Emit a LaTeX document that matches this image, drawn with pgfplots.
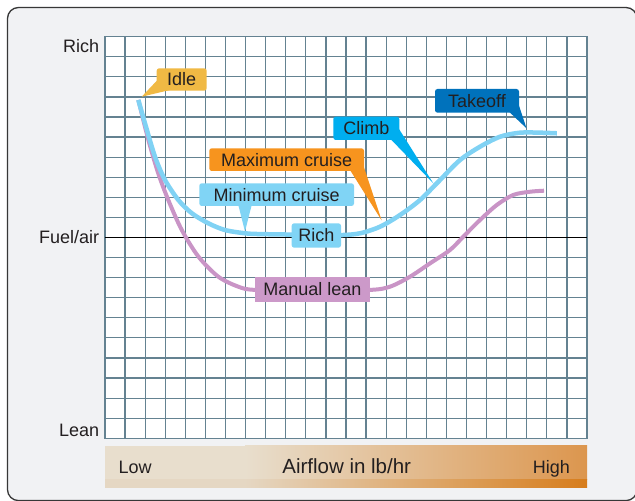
\documentclass[border=0pt]{standalone}
\usepackage{pgfplots}
\pgfplotsset{compat=1.18}
\usepackage{fontspec}
\setmainfont{Liberation Sans}
\definecolor{gridc}{RGB}{100,130,145}
\definecolor{framebg}{RGB}{241,242,244}
\definecolor{framedraw}{RGB}{55,55,55}
\definecolor{curveblue}{RGB}{128,210,244}
\definecolor{curvepurple}{RGB}{201,148,198}
\definecolor{idlec}{RGB}{240,185,68}
\definecolor{maxc}{RGB}{247,148,30}
\definecolor{minc}{RGB}{128,212,245}
\definecolor{climbc}{RGB}{0,174,239}
\definecolor{takeoffc}{RGB}{0,114,188}
\definecolor{leanc}{RGB}{204,153,201}
\definecolor{txt}{RGB}{35,31,32}
\definecolor{beige}{RGB}{232,222,205}
\definecolor{orangeR}{RGB}{220,150,78}
\definecolor{beigeD}{RGB}{229,215,195}
\definecolor{orangeD}{RGB}{215,125,28}
\newcommand{\callout}[6]{%
  \fill[#1, rounded corners=2.5pt] (#2,#3) rectangle (#4,#5);
  \node[anchor=base, inner sep=0pt, text=txt, font=\fontsize{18pt}{21pt}\selectfont] at ({(#2+#4)/2},{(#3+#5)/2+6.4}) {#6};}
\begin{document}
\begin{tikzpicture}
\useasboundingbox (0,0) rectangle (635pt,501pt);
\fill[white] (0,0) rectangle (635pt,501pt);
\begin{scope}[shift={(0pt,501pt)}, x=1pt, y=-1pt]
  \begin{scope}
    \clip (0,0) rectangle (635,501);
    \draw[fill=framebg, draw=framedraw, line width=1.3pt, rounded corners=11pt] (7.5,7.5) rectangle (637,500.6);
  \end{scope}
  \fill[beige] (105,446) rectangle (246,479.5);
  \shade[left color=beige, right color=orangeR] (245,446) rectangle (587,479.5);
  \fill[beigeD] (105,479.3) rectangle (246,488);
  \shade[left color=beigeD, right color=orangeD] (245,479.3) rectangle (587,488);
  \node[anchor=base west, inner sep=0pt, text=txt, font=\fontsize{18pt}{21pt}\selectfont] at (118.3,473.3) {Low};
  \node[anchor=base, inner sep=0pt, text=txt, font=\fontsize{20.5pt}{24pt}\selectfont] at (346.7,473.3) {Airflow in lb/hr};
  \node[anchor=base east, inner sep=0pt, text=txt, font=\fontsize{18pt}{21pt}\selectfont] at (570,473.3) {High};
\end{scope}
\begin{axis}[
  at={(105pt,62.7pt)}, anchor=south west,
  width=482pt, height=401.6pt, scale only axis,
  xmin=0, xmax=24, ymin=0, ymax=20,
  xtick={0,...,24}, ytick={0,...,20},
  xticklabels={}, yticklabels={},
  major tick length=0pt,
  grid=major,
  major grid style={color=gridc, line width=1.2pt},
  axis line style={color=gridc, line width=1.2pt},
  axis background/.style={fill=white},
  clip=false,
]
\addplot[black, line width=1.1pt] coordinates {(0,10) (24,10)};
\addplot[curvepurple, line width=4pt, smooth, tension=0.5] coordinates {
(1.66,16.85) (2.16,14.86) (2.65,13.2) (3.15,11.87) (3.82,10.38) (4.65,9.05)
(5.64,8.05) (6.64,7.55) (7.47,7.39) (10.3,7.35) (13.2,7.39) (14.19,7.55)
(15.19,8.05) (16.18,8.71) (17.18,9.38) (17.84,10.04) (18.67,10.87)
(19.51,11.62) (20.33,12.12) (21.17,12.28) (21.86,12.33)};
\addplot[curveblue, line width=4.5pt, smooth, tension=0.5] coordinates {
(1.66,16.85) (1.99,15.69) (2.49,14.02) (2.99,12.86) (3.65,11.87) (4.32,11.21)
(5.14,10.71) (5.98,10.37) (6.97,10.21) (7.72,10.17) (9.7,10.14) (11.7,10.12)
(12.7,10.21) (13.7,10.54) (14.69,11.12) (15.69,11.87) (16.68,12.86)
(17.68,13.86) (18.67,14.52) (19.67,15.02) (20.67,15.22) (21.66,15.22) (22.5,15.19)};
\node[anchor=east, inner sep=0pt, text=txt, font=\fontsize{18pt}{21pt}\selectfont, xshift=-5.7pt] at (axis cs:0,19.55) {Rich};
\node[anchor=east, inner sep=0pt, text=txt, font=\fontsize{18pt}{21pt}\selectfont, xshift=-5.7pt] at (axis cs:0,10) {Fuel/air};
\node[anchor=east, inner sep=0pt, text=txt, font=\fontsize{18pt}{21pt}\selectfont, xshift=-5.7pt] at (axis cs:0,0.41) {Lean};
\end{axis}
\begin{scope}[shift={(0pt,501pt)}, x=1pt, y=-1pt]
  % Idle
  \fill[idlec] (157.5,80) -- (170,90) -- (141.7,96.7) -- cycle;
  \callout{idlec}{156.7}{68.3}{206.7}{90.7}{Idle}
  % Maximum cruise
  \fill[maxc] (350,170) -- (363.5,166) -- (381.7,220.5) -- cycle;
  \callout{maxc}{209.3}{148.3}{364}{171}{Maximum cruise}
  % Minimum cruise
  \fill[minc] (238.3,205) -- (251.7,205) -- (245,231.5) -- cycle;
  \callout{minc}{199.3}{183.3}{354}{206}{Minimum cruise}
  % Rich
  \callout{minc}{291.7}{223.3}{341}{247.7}{Rich}
  % Climb
  \fill[climbc] (390.5,139) -- (399,129) -- (433.3,183.3) -- cycle;
  \callout{climbc}{333.3}{116.7}{399.3}{140}{Climb}
  % Takeoff
  \fill[takeoffc] (509,111.7) -- (518.5,104) -- (526.5,128.3) -- cycle;
  \callout{takeoffc}{435}{89}{519}{112.7}{Takeoff}
  % Manual lean
  \fill[leanc] (255,277.3) rectangle (370,301.7);
  \node[anchor=base, inner sep=0pt, text=txt, font=\fontsize{18pt}{21pt}\selectfont] at (312.5,295.9) {Manual lean};
\end{scope}
\end{tikzpicture}
\end{document}
